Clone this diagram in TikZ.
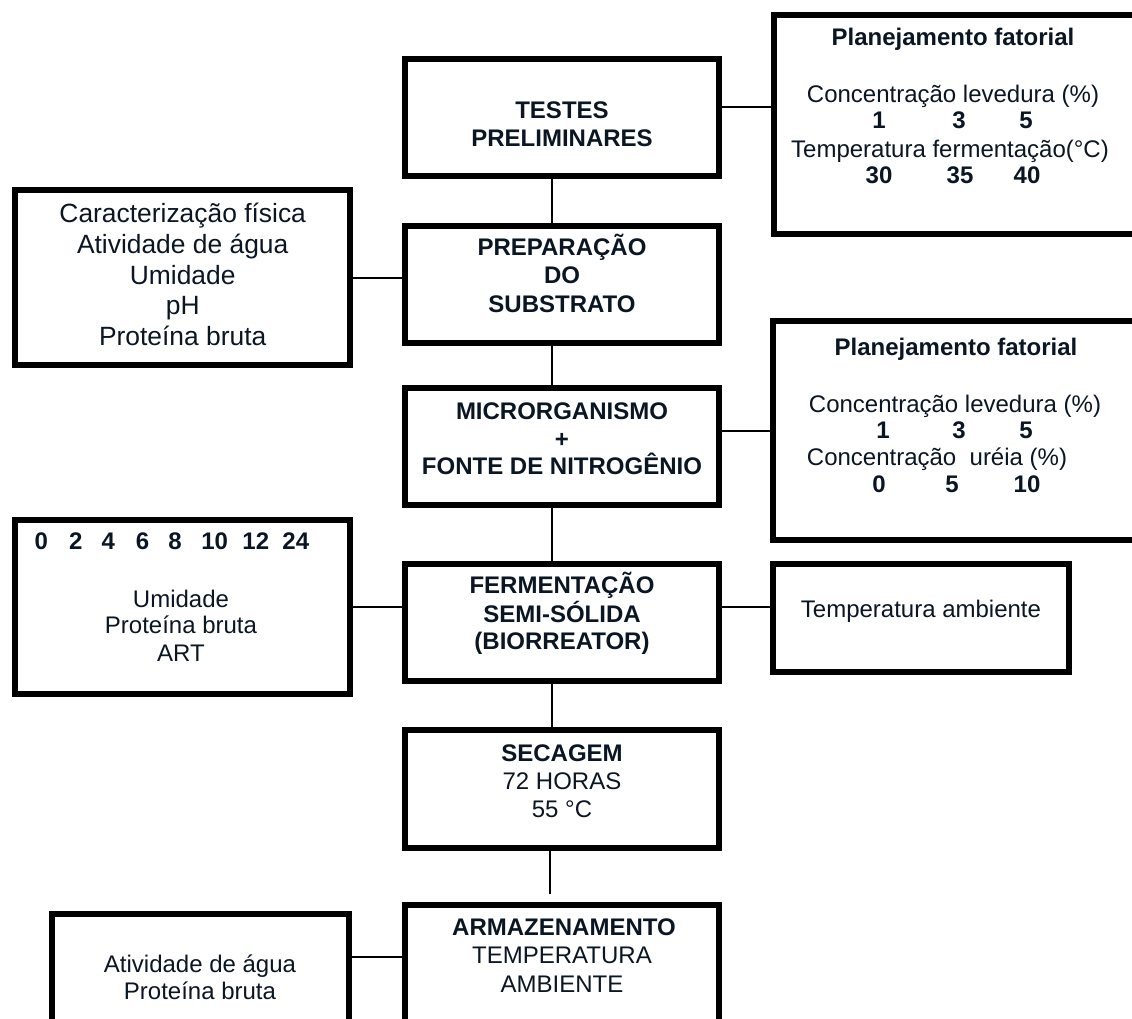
\documentclass[tikz,border=0pt]{standalone}
\usepackage{fontspec}
\setmainfont{Liberation Sans}
\definecolor{ink}{RGB}{10,22,36}
\begin{document}
\begin{tikzpicture}[x=0.5pt,y=-0.5pt,
  box/.style 2 args={draw=black, line width=3pt, fill=white, inner sep=0pt,
    minimum width={#1*0.5pt}, minimum height={#2*0.5pt}},
  conn/.style={draw=black, line width=1pt},
  txt/.style={anchor=base, inner sep=0pt, text=ink, font=\fontsize{12}{14}\selectfont},
  btxt/.style={txt, font=\fontsize{12}{14}\selectfont\bfseries},
  ltxt/.style={txt, font=\fontsize{13.2}{15}\selectfont}]
\useasboundingbox (0,0) rectangle (1132,1019);
\clip (0,0) rectangle (1132,1019);
\fill[white] (0,0) rectangle (1132,1019);

% boxes
\node[box={314}{117}] (testes) at (562,117.5) {};
\node[box={314}{117}] (prep)   at (562,284.5) {};
\node[box={314}{117}] (micro)  at (562,446.5) {};
\node[box={314}{117}] (ferm)   at (562,622.5) {};
\node[box={314}{118}] (secag)  at (562,789) {};
\node[box={314}{122}] (armaz)  at (562,966) {};
\node[box={361}{219}] (plan1)  at (954.5,124.5) {};
\node[box={362}{219}] (plan2)  at (954,430.5) {};
\node[box={296}{108}] (temp)   at (921,618) {};
\node[box={335}{175}] (carac)  at (182.5,277.5) {};
\node[box={335}{174}] (times)  at (182.5,607) {};
\node[box={297}{113}] (bleft)  at (200.5,970.5) {};

% connectors
\draw[conn] ([yshift=5.25pt]testes.east) -- ([yshift=5.25pt]testes.east -| plan1.west);
\draw[conn] ([xshift=-5pt]testes.south) -- ([xshift=-5pt]testes.south |- prep.north);
\draw[conn] (carac.east) -- (carac.east -| prep.west);
\draw[conn] ([xshift=-5pt]prep.south) -- ([xshift=-5pt]prep.south |- micro.north);
\draw[conn] ([yshift=7.75pt]micro.east) -- ([yshift=7.75pt]micro.east -| plan2.west);
\draw[conn] ([xshift=-5pt]micro.south) -- ([xshift=-5pt]micro.south |- ferm.north);
\draw[conn] (times.east) -- (times.east -| ferm.west);
\draw[conn] ([yshift=7.75pt]ferm.east) -- ([yshift=7.75pt]ferm.east -| temp.west);
\draw[conn] ([xshift=-5pt]ferm.south) -- ([xshift=-5pt]ferm.south |- secag.north);
\draw[conn, shorten >=4pt] ([xshift=-6pt]secag.south) -- ([xshift=-6pt]secag.south |- armaz.north);
\draw[conn] ([yshift=6.75pt]bleft.east) -- ([yshift=6.75pt]bleft.east -| armaz.west);

% central texts
\node[btxt] (t1) at (562,118) {TESTES};
\node[btxt] (t2) at (562,146) {PRELIMINARES};
\node[btxt] (p1) at (562,255) {PREPARAÇÃO};
\node[btxt] (p2) at (562,283) {DO};
\node[btxt] (p3) at (562,312) {SUBSTRATO};
\node[btxt] (m1) at (562,419) {MICRORGANISMO};
\node[btxt] (m2) at (562,447) {+};
\node[btxt] (m3) at (562,474) {FONTE DE NITROGÊNIO};
\node[btxt] (f1) at (562,593) {FERMENTAÇÃO};
\node[btxt] (f2) at (562,622) {SEMI-SÓLIDA};
\node[btxt] (f3) at (562,649) {(BIORREATOR)};
\node[btxt] (s1) at (562,761) {SECAGEM};
\node[txt]  (s2) at (562,789) {72 HORAS};
\node[txt]  (s3) at (562,817) {55 °C};
\node[btxt] (a1) at (564,935) {ARMAZENAMENTO};
\node[txt]  (a2) at (562,963) {TEMPERATURA};
\node[txt]  (a3) at (562,992) {AMBIENTE};

% planejamento 1
\node[btxt] (q1) at (953,45) {Planejamento fatorial};
\node[txt]  (q2) at (953,102) {Concentração levedura (\%)};
\node[btxt] (q3a) at (879,128) {1};
\node[btxt] (q3b) at (959,128) {3};
\node[btxt] (q3c) at (1026,128) {5};
\node[txt]  (q4) at (950,157) {Temperatura fermentação(°C)};
\node[btxt] (q5a) at (879,183) {30};
\node[btxt] (q5b) at (960,183) {35};
\node[btxt] (q5c) at (1027,183) {40};

% planejamento 2
\node[btxt] (r1) at (956,355) {Planejamento fatorial};
\node[txt]  (r2) at (955,412) {Concentração levedura (\%)};
\node[btxt] (r3a) at (883,438) {1};
\node[btxt] (r3b) at (959,438) {3};
\node[btxt] (r3c) at (1026,438) {5};
\node[txt]  (r4) at (937,465) {Concentração\ \ uréia (\%)};
\node[btxt] (r5a) at (879,492) {0};
\node[btxt] (r5b) at (952,492) {5};
\node[btxt] (r5c) at (1027,492) {10};

% temperatura ambiente
\node[txt] (ta) at (921,617) {Temperatura ambiente};

% caracterizacao
\node[ltxt] (c1) at (182.7,222) {Caracterização física};
\node[ltxt] (c2) at (182.7,253) {Atividade de água};
\node[ltxt] (c3) at (182.7,284) {Umidade};
\node[ltxt] (c4) at (182.7,314) {pH};
\node[ltxt] (c5) at (182.7,345) {Proteína bruta};

% tempos
\node[btxt] (n0) at (41.3,549) {0};
\node[btxt] (n2) at (75.8,549) {2};
\node[btxt] (n4) at (108.3,549) {4};
\node[btxt] (n6) at (142.5,549) {6};
\node[btxt] (n8) at (175,549) {8};
\node[btxt] (n10) at (214.7,549) {10};
\node[btxt] (n12) at (255.8,549) {12};
\node[btxt] (n24) at (295.8,549) {24};
\node[txt] (u1) at (181,607) {Umidade};
\node[txt] (u2) at (181,633) {Proteína bruta};
\node[txt] (u3) at (181,661) {ART};

% bottom left
\node[txt] (b1) at (200,972) {Atividade de água};
\node[txt] (b2) at (200,999) {Proteína bruta};
\end{tikzpicture}
\end{document}
